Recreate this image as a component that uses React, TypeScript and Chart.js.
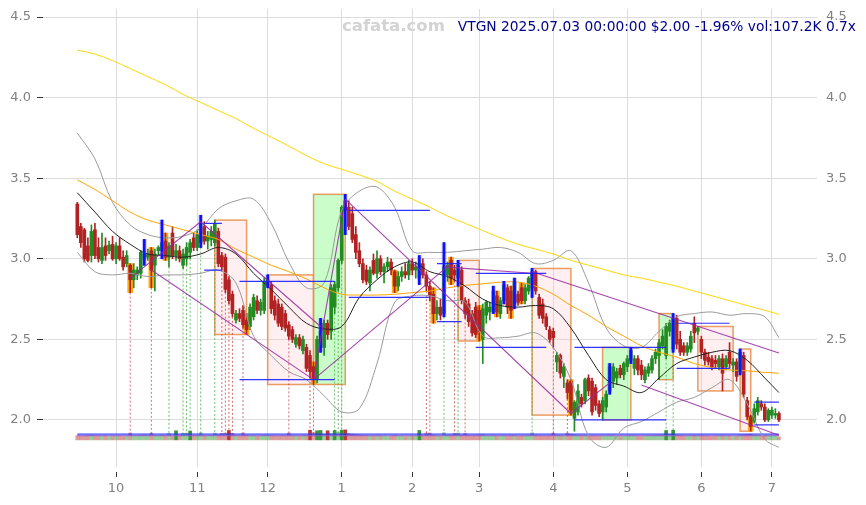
import React, { useEffect, useRef } from "react";
import { Chart, registerables } from "chart.js";

Chart.register(...registerables);

type Candle = [number, number, number, number]; // open, high, low, close

// ---------------- candles (daily, trading days) ----------------
const SEP_2024: Candle[] = [
  [3.34, 3.35, 3.13, 3.15], [3.2, 3.22, 3.07, 3.1], [3.18, 3.19, 2.98, 3.0], [3.08, 3.13, 2.98, 2.99],
  [3.02, 3.21, 2.98, 3.17], [3.18, 3.22, 3.0, 3.02], [3.07, 3.13, 2.98, 3.0], [2.99, 3.16, 2.97, 3.07],
  [3.08, 3.13, 2.99, 3.02], [3.05, 3.11, 3.03, 3.085], [3.09, 3.14, 2.99, 3.0],
];
const OCT_2024: Candle[] = [
  [3.0, 3.1, 2.97, 3.08], [3.08, 3.13, 2.99, 3.0], [3.01, 3.05, 2.93, 2.95], [2.97, 3.05, 2.95, 3.02],
  [2.96, 2.97, 2.79, 2.87], [2.87, 2.97, 2.82, 2.93], [2.9, 2.95, 2.87, 2.93], [2.91, 3.05, 2.88, 3.04],
  [3.0, 3.12, 2.96, 3.03], [3.01, 3.06, 2.99, 3.03], [3.05, 3.07, 2.82, 2.93], [2.96, 3.06, 2.8, 3.03],
  [3.05, 3.08, 3.02, 3.07], [3.05, 3.24, 3.0, 3.1], [3.11, 3.16, 2.99, 3.01], [3.01, 3.1, 2.95, 3.08],
  [3.16, 3.2, 3.0, 3.02], [3.02, 3.09, 2.99, 3.05], [3.05, 3.08, 2.98, 3.0], [2.96, 3.06, 2.94, 3.03],
  [3.0, 3.1, 2.96, 3.07], [3.04, 3.12, 3.0, 3.1], [3.13, 3.16, 3.05, 3.07],
];
const NOV_2024: Candle[] = [
  [3.07, 3.18, 3.05, 3.15], [3.1, 3.27, 3.07, 3.22], [3.2, 3.23, 3.09, 3.11], [3.11, 3.17, 3.06, 3.14],
  [3.12, 3.2, 3.08, 3.17], [3.1, 3.24, 3.08, 3.22], [3.17, 3.19, 2.95, 2.97], [3.02, 3.04, 2.93, 2.95],
  [3.01, 3.03, 2.79, 2.81], [2.87, 2.89, 2.72, 2.74], [2.78, 2.8, 2.64, 2.66], [2.62, 2.68, 2.6, 2.66],
  [2.66, 2.69, 2.61, 2.63], [2.68, 2.71, 2.57, 2.59], [2.62, 2.66, 2.53, 2.56], [2.58, 2.72, 2.56, 2.7],
  [2.64, 2.78, 2.62, 2.76], [2.74, 2.77, 2.66, 2.68], [2.68, 2.75, 2.65, 2.73], [2.68, 2.88, 2.66, 2.86],
];
const DEC_2024: Candle[] = [
  [2.84, 2.9, 2.82, 2.87], [2.84, 2.86, 2.66, 2.69], [2.74, 2.77, 2.62, 2.65], [2.72, 2.75, 2.58, 2.6],
  [2.7, 2.72, 2.56, 2.58], [2.66, 2.68, 2.55, 2.57], [2.59, 2.61, 2.5, 2.52], [2.56, 2.58, 2.48, 2.5],
  [2.47, 2.53, 2.45, 2.51], [2.51, 2.53, 2.44, 2.46], [2.43, 2.52, 2.41, 2.5], [2.45, 2.47, 2.3, 2.32],
  [2.4, 2.43, 2.26, 2.3], [2.33, 2.36, 2.22, 2.26], [2.25, 2.52, 2.23, 2.5], [2.45, 2.63, 2.42, 2.55],
  [2.45, 2.62, 2.4, 2.6], [2.6, 2.62, 2.5, 2.53], [2.55, 2.84, 2.5, 2.82], [2.7, 2.86, 2.66, 2.84],
  [2.82, 3.0, 2.8, 2.99],
];
const JAN_2025: Candle[] = [
  [2.99, 3.33, 2.97, 3.32], [3.36, 3.4, 3.15, 3.3], [3.32, 3.36, 3.18, 3.2], [3.28, 3.32, 3.1, 3.12],
  [3.15, 3.2, 3.0, 3.04], [3.05, 3.1, 2.95, 2.97], [2.97, 3.0, 2.85, 2.87], [2.93, 2.96, 2.84, 2.86],
  [2.85, 2.95, 2.8, 2.93], [2.99, 3.03, 2.9, 2.91], [2.91, 3.05, 2.88, 3.0], [3.0, 3.02, 2.9, 2.92],
  [2.92, 2.97, 2.85, 2.95], [2.95, 3.01, 2.92, 2.98], [2.98, 3.0, 2.9, 2.93], [2.92, 2.93, 2.79, 2.83],
  [2.83, 2.92, 2.8, 2.89], [2.89, 2.95, 2.86, 2.92], [2.92, 2.97, 2.88, 2.9], [2.9, 2.99, 2.87, 2.97],
];
const FEB_2025: Candle[] = [
  [2.97, 3.0, 2.9, 2.93], [2.93, 2.98, 2.88, 2.95], [2.88, 3.02, 2.84, 2.97], [2.97, 3.0, 2.88, 2.9],
  [2.9, 2.92, 2.8, 2.83], [2.83, 2.86, 2.74, 2.77], [2.78, 2.82, 2.6, 2.66], [2.66, 2.74, 2.62, 2.7],
  [2.7, 2.75, 2.62, 2.65], [2.66, 3.1, 2.64, 2.95], [2.9, 2.98, 2.86, 2.96], [2.99, 3.01, 2.84, 2.88],
  [2.93, 2.96, 2.86, 2.9], [2.88, 2.99, 2.83, 2.96], [2.93, 2.95, 2.72, 2.74], [2.74, 2.76, 2.63, 2.66],
  [2.72, 2.75, 2.58, 2.61], [2.66, 2.68, 2.52, 2.54], [2.7, 2.73, 2.51, 2.53],
];
const MAR_2025: Candle[] = [
  [2.68, 2.71, 2.49, 2.55], [2.5, 2.72, 2.35, 2.69], [2.65, 2.74, 2.6, 2.73], [2.67, 2.73, 2.62, 2.7],
  [2.68, 2.83, 2.66, 2.8], [2.77, 2.8, 2.64, 2.67], [2.66, 2.76, 2.63, 2.74], [2.74, 2.86, 2.72, 2.84],
  [2.82, 2.84, 2.66, 2.7], [2.8, 2.83, 2.63, 2.68], [2.72, 2.88, 2.69, 2.86], [2.78, 2.8, 2.71, 2.73],
  [2.82, 2.85, 2.72, 2.74], [2.74, 2.84, 2.72, 2.82], [2.8, 2.89, 2.78, 2.88], [2.82, 2.94, 2.76, 2.92],
  [2.92, 2.93, 2.78, 2.8], [2.76, 2.78, 2.63, 2.65], [2.72, 2.75, 2.6, 2.63], [2.64, 2.66, 2.56, 2.58],
  [2.56, 2.58, 2.48, 2.5],
];
const APR_2025: Candle[] = [
  [2.55, 2.57, 2.45, 2.51], [2.36, 2.42, 2.3, 2.4], [2.4, 2.41, 2.26, 2.29], [2.27, 2.35, 2.2, 2.33],
  [2.23, 2.25, 2.13, 2.17], [2.24, 2.25, 2.03, 2.06], [2.01, 2.12, 1.93, 2.11], [2.05, 2.22, 2.03, 2.18],
  [2.14, 2.16, 2.08, 2.1], [2.12, 2.26, 2.1, 2.25], [2.26, 2.28, 2.15, 2.18], [2.24, 2.26, 2.03, 2.05],
  [2.2, 2.22, 2.06, 2.09], [2.1, 2.12, 2.02, 2.04], [2.05, 2.14, 2.0, 2.12], [2.08, 2.18, 2.05, 2.16],
  [2.18, 2.35, 2.16, 2.33], [2.24, 2.35, 2.2, 2.33], [2.26, 2.32, 2.22, 2.3], [2.32, 2.34, 2.26, 2.28],
  [2.28, 2.36, 2.25, 2.35],
];
const MAY_2025: Candle[] = [
  [2.33, 2.4, 2.3, 2.38], [2.37, 2.45, 2.35, 2.43], [2.32, 2.4, 2.28, 2.38], [2.38, 2.4, 2.28, 2.31],
  [2.34, 2.37, 2.25, 2.28], [2.25, 2.33, 2.23, 2.31], [2.29, 2.35, 2.27, 2.33], [2.31, 2.4, 2.29, 2.38],
  [2.38, 2.44, 2.35, 2.42], [2.4, 2.5, 2.25, 2.48], [2.46, 2.56, 2.44, 2.52], [2.4, 2.6, 2.38, 2.58],
  [2.55, 2.62, 2.52, 2.6], [2.44, 2.66, 2.42, 2.63], [2.63, 2.65, 2.44, 2.47], [2.5, 2.55, 2.4, 2.42],
  [2.46, 2.48, 2.4, 2.42], [2.42, 2.48, 2.4, 2.46], [2.44, 2.55, 2.42, 2.52], [2.6, 2.64, 2.48, 2.54],
  [2.55, 2.58, 2.53, 2.57],
];
const JUN_2025: Candle[] = [
  [2.5, 2.52, 2.38, 2.42], [2.42, 2.44, 2.34, 2.37], [2.39, 2.42, 2.34, 2.36], [2.38, 2.4, 2.31, 2.33],
  [2.37, 2.4, 2.32, 2.35], [2.33, 2.4, 2.31, 2.38], [2.38, 2.41, 2.18, 2.29], [2.33, 2.4, 2.31, 2.38],
  [2.42, 2.48, 2.32, 2.35], [2.34, 2.38, 2.3, 2.36], [2.36, 2.38, 2.24, 2.27], [2.3, 2.44, 2.28, 2.42],
  [2.4, 2.42, 2.14, 2.16], [2.12, 2.14, 2.0, 2.02], [2.02, 2.03, 1.93, 1.96], [1.99, 2.1, 1.98, 2.07],
  [2.05, 2.14, 2.03, 2.12], [2.1, 2.12, 2.06, 2.08], [2.08, 2.1, 1.99, 2.0], [2.0, 2.07, 1.99, 2.06],
];
const JUL_2025: Candle[] = [
  [2.03, 2.08, 2.01, 2.06], [2.03, 2.07, 2.01, 2.04], [2.04, 2.05, 1.99, 2.0],
];

const MONTH_CANDLES = [SEP_2024, OCT_2024, NOV_2024, DEC_2024, JAN_2025, FEB_2025, MAR_2025, APR_2025, MAY_2025, JUN_2025, JUL_2025];
const MONTH_TICK_LABELS = ["10", "11", "12", "1", "2", "3", "4", "5", "6", "7"];

// volume in thousands of shares
const VOLUME_K = [
  150, 130, 140, 160, 170, 150, 140, 130, 150, 120, 140,
  130, 140, 120, 130, 240, 150, 140, 160, 170, 150, 240, 160, 150, 170, 150, 230, 140, 320, 150, 230, 240, 310, 150,
  160, 250, 150, 140, 150, 240, 180, 230, 240, 330, 230, 150, 140, 240, 170, 140, 150, 130, 140, 160,
  170, 150, 140, 130, 150, 140, 240, 150, 140, 130, 150, 160, 340, 260, 320, 330, 200, 320, 220, 330, 260,
  340, 350, 220, 200, 180, 170, 160, 150, 140, 130, 150, 140, 130, 120, 130, 160, 140, 130, 120, 130,
  140, 130, 330, 160, 240, 240, 170, 140, 130, 250, 160, 170, 230, 240, 160, 230, 150, 140, 150,
  170, 180, 140, 130, 150, 140, 130, 150, 140, 150, 160, 130, 140, 130, 150, 250, 170, 150, 140, 130, 150,
  240, 160, 150, 140, 240, 190, 180, 160, 140, 150, 130, 150, 140, 130, 140, 130, 150, 140, 130, 120, 130,
  130, 150, 140, 130, 120, 130, 140, 150, 160, 170, 180, 330, 200, 340, 180, 160, 140, 130, 150, 160, 140,
  150, 140, 130, 120, 130, 140, 150, 130, 140, 120, 130, 170, 180, 190, 200, 160, 150, 130, 140, 130,
  130, 140, 107.2,
];

// indicator lines sampled every 5 bars
const SAMPLE_IDX = [0, 5, 10, 15, 20, 25, 30, 35, 40, 45, 50, 55, 60, 65, 70, 75, 80, 85, 90, 95, 100, 105, 110, 115, 120, 125, 130, 135, 140, 145, 150, 155, 160, 165, 170, 175, 180, 185, 190, 195, 199];
const MA_LONG = [4.295, 4.27, 4.23, 4.18, 4.13, 4.08, 4.02, 3.97, 3.92, 3.87, 3.81, 3.755, 3.7, 3.64, 3.59, 3.555, 3.52, 3.48, 3.42, 3.37, 3.32, 3.265, 3.22, 3.175, 3.13, 3.09, 3.06, 3.03, 2.99, 2.96, 2.93, 2.9, 2.88, 2.855, 2.83, 2.8, 2.77, 2.74, 2.71, 2.68, 2.655];
const MA_MID = [3.49, 3.43, 3.36, 3.29, 3.24, 3.21, 3.18, 3.15, 3.12, 3.06, 3.01, 2.96, 2.92, 2.875, 2.82, 2.78, 2.775, 2.775, 2.78, 2.79, 2.8, 2.82, 2.835, 2.845, 2.855, 2.855, 2.83, 2.78, 2.71, 2.65, 2.58, 2.52, 2.46, 2.42, 2.39, 2.35, 2.325, 2.31, 2.305, 2.295, 2.29];
const MA_SHORT = [3.41, 3.29, 3.17, 3.09, 3.03, 3.02, 3.01, 3.03, 3.07, 3.03, 2.91, 2.81, 2.7, 2.6, 2.565, 2.58, 2.76, 2.87, 2.95, 2.98, 2.92, 2.89, 2.83, 2.75, 2.71, 2.7, 2.71, 2.69, 2.57, 2.4, 2.25, 2.21, 2.17, 2.26, 2.35, 2.39, 2.42, 2.43, 2.37, 2.26, 2.17];
const BAND_UPPER = [3.78, 3.62, 3.35, 3.21, 3.15, 3.13, 3.14, 3.19, 3.31, 3.36, 3.37, 3.22, 2.98, 2.82, 2.85, 3.3, 3.42, 3.445, 3.32, 3.05, 3.04, 3.04, 3.05, 3.06, 3.07, 3.04, 2.97, 2.99, 3.05, 2.85, 2.57, 2.46, 2.45, 2.55, 2.64, 2.66, 2.67, 2.65, 2.66, 2.64, 2.51];
const BAND_LOWER = [3.04, 2.92, 2.9, 2.91, 2.89, 2.9, 2.9, 2.91, 2.93, 2.85, 2.52, 2.4, 2.3, 2.25, 2.15, 2.05, 2.07, 2.35, 2.73, 2.77, 2.77, 2.74, 2.73, 2.52, 2.51, 2.52, 2.54, 2.45, 2.25, 1.9, 1.83, 1.95, 1.99, 2.05, 2.11, 2.14, 2.2, 2.25, 2.1, 1.88, 1.83];
const VOL_MA_FAST_K = [200, 202, 201, 200, 199, 200, 201, 200, 200];
const VOL_MA_SLOW_K = [150, 151, 150, 150, 149, 150, 151, 150, 150];
const VOL_MA_IDX = [0, 25, 50, 75, 100, 125, 150, 175, 199];

// pattern boxes [first bar, last bar]
const BOXES: [number, number][] = [[39, 48], [54, 67], [67, 76], [108, 114], [129, 140], [149, 157], [165, 169], [176, 186], [188, 191]];
// trend lines [bar, price, bar, price]
const TREND_LINES: [number, number, number, number][] = [
  [15, 2.88, 35, 3.23], [21, 2.93, 67, 2.25], [35, 3.23, 69, 2.58], [67, 2.25, 76, 3.37],
  [76, 3.37, 140, 2.04], [67, 2.25, 106, 2.97], [104, 2.95, 129, 2.91], [129, 2.92, 199, 2.415],
  [140, 2.04, 151, 2.23], [160, 2.217, 199, 1.905],
];
// support / resistance levels [first bar, last bar, price]
const LEVELS: [number, number, number][] = [
  [36, 41, 3.22], [36, 41, 2.93], [46, 73, 2.86], [46, 73, 2.25], [77, 100, 3.3], [77, 100, 2.76],
  [102, 109, 2.97], [102, 109, 2.61], [113, 133, 2.91], [113, 133, 2.45], [141, 167, 2.45], [141, 167, 2.0],
  [170, 185, 2.6], [170, 185, 2.32], [192, 199, 2.11], [192, 199, 1.97],
];
const BLUE_MARK_IDX = [19, 24, 35, 54, 69, 76, 97, 104, 108, 118, 121, 124, 129, 151, 157, 169, 188];
const ORANGE_MARK_IDX = [15, 21, 25, 48, 67, 90, 101, 106, 114, 119, 123, 126, 140, 191];
const SIGNAL_IDX = [15, 21, 26, 30, 31, 32, 35, 39, 41, 42, 43, 44, 47, 60, 66, 67, 73, 74, 75, 99, 100, 104, 107, 108, 110, 129, 135, 139, 167, 169];
const Y_TICKS = [2.0, 2.5, 3.0, 3.5, 4.0, 4.5];
const TICKER = "VTGN";
const LAST_TIME = "2025.07.03 00:00:00";

// ---------------- derived ----------------
const CANDLES: Candle[] = MONTH_CANDLES.flat();
const MONTH_TICK_IDX: number[] = [];
{
  let acc = 0;
  MONTH_CANDLES.forEach((m, k) => {
    if (k > 0) MONTH_TICK_IDX.push(acc);
    acc += m.length;
  });
}
const N = CANDLES.length;
const X_MIN = -9.73;
const X_MAX = N - 1 + 10.8;
const Y_MIN = 1.708;
const Y_MAX = 4.55;
const DOT_BASE = 1.915;
const VOL_BIG = 300;

const RED = "#b22222";
const GREEN = "#228b22";
const isUp = (c: Candle) => c[3] >= c[0];

const last = CANDLES[N - 1][3];
const prev = CANDLES[N - 2][3];
const pct = ((last / prev - 1) * 100).toFixed(2);
const lastVol = VOLUME_K[N - 1];
const volRatio = (lastVol / VOL_MA_SLOW_K[VOL_MA_SLOW_K.length - 1]).toFixed(1);
const TITLE = `${TICKER} ${LAST_TIME} $${last.toFixed(2)} ${pct}% vol:${lastVol.toFixed(1)}K ${volRatio}x`;

const sampled = (vals: number[]) => SAMPLE_IDX.map((x, k) => ({ x, y: vals[k] }));
const segData = (segs: [number, number, number, number][]) => {
  const out: { x: number; y: number | null }[] = [];
  segs.forEach(([a, pa, b, pb]) => {
    out.push({ x: a, y: pa }, { x: b, y: pb }, { x: b, y: null });
  });
  return out;
};

const boxPlugin = {
  id: "boxes",
  beforeDatasetsDraw(chart: any) {
    const { ctx, scales } = chart;
    const xs = scales.x;
    const ys = scales.y;
    ctx.save();
    BOXES.forEach(([a, b]) => {
      let hi = -Infinity;
      let lo = Infinity;
      for (let i = a; i <= b; i++) {
        hi = Math.max(hi, CANDLES[i][1]);
        lo = Math.min(lo, CANDLES[i][2]);
      }
      const up = CANDLES[b][3] > CANDLES[a][0];
      const x0 = xs.getPixelForValue(a);
      const x1 = xs.getPixelForValue(b);
      const y0 = ys.getPixelForValue(hi);
      const y1 = ys.getPixelForValue(lo);
      ctx.fillStyle = up ? "rgba(152,251,152,0.5)" : "rgba(255,182,193,0.22)";
      ctx.fillRect(x0, y0, x1 - x0, y1 - y0);
      ctx.strokeStyle = "rgba(230,140,70,0.85)";
      ctx.lineWidth = 1.5;
      ctx.strokeRect(x0, y0, x1 - x0, y1 - y0);
    });
    ctx.restore();
  },
};

const FONT = { family: "'DejaVu Sans', sans-serif", size: 13 };
const TICK_COLOR = "#808080";
const GRID_COLOR = "#dddddd";

const zeroPad = (s: any) => {
  s.paddingTop = 0;
  s.paddingBottom = 0;
  s.paddingLeft = 0;
  s.paddingRight = 0;
};

export default function App() {
  const ref = useRef<HTMLCanvasElement | null>(null);

  useEffect(() => {
    if (!ref.current) return;

    const sigRed: any[] = [];
    const sigGreen: any[] = [];
    SIGNAL_IDX.forEach((i) => {
      const c = CANDLES[i];
      const arr = isUp(c) ? sigGreen : sigRed;
      arr.push({ x: i, y: c[2] }, { x: i, y: DOT_BASE }, { x: i, y: null });
    });

    const levelData: any[] = [];
    LEVELS.forEach(([a, b, p]) => levelData.push({ x: a, y: p }, { x: b, y: p }, { x: b, y: null }));

    const lineDs = (label: string, data: any[], color: string, width: number, order: number, extra: any = {}) => ({
      type: "line" as const,
      label,
      data,
      borderColor: color,
      borderWidth: width,
      pointRadius: 0,
      fill: false,
      order,
      ...extra,
    });

    const datasets: any[] = [
      lineDs("levels", levelData, "rgba(30,30,255,0.9)", 1.2, 1),
      lineDs("trend", segData(TREND_LINES), "rgba(150,40,160,0.85)", 1.1, 2),
      {
        type: "bar", label: "blueMark",
        data: BLUE_MARK_IDX.map((i) => ({ x: i, y: [CANDLES[i][2], CANDLES[i][1]] })),
        backgroundColor: "#1010ff", barThickness: 2, grouped: false, order: 3,
      },
      {
        type: "bar", label: "blueHalo",
        data: BLUE_MARK_IDX.map((i) => ({ x: i, y: [CANDLES[i][2], CANDLES[i][1]] })),
        backgroundColor: "rgba(90,90,255,0.35)", barThickness: 4, grouped: false, order: 4,
      },
      lineDs("maShort", sampled(MA_SHORT), "#222222", 1, 5, { tension: 0.35 }),
      lineDs("maMid", sampled(MA_MID), "#ffa500", 1, 6, { tension: 0.35 }),
      lineDs("maLong", sampled(MA_LONG), "#ffd700", 1, 7, { tension: 0.35 }),
      lineDs("bandUp", sampled(BAND_UPPER), "#9a9a9a", 1, 8, { tension: 0.35 }),
      lineDs("bandLow", sampled(BAND_LOWER), "#9a9a9a", 1, 9, { tension: 0.35 }),
      {
        type: "bar", label: "body",
        data: CANDLES.map((c, i) => ({ x: i, y: [c[0], c[3]] })),
        backgroundColor: CANDLES.map((c) => (isUp(c) ? GREEN : RED)),
        barThickness: 3, minBarLength: 1, grouped: false, order: 10,
      },
      {
        type: "bar", label: "wick",
        data: CANDLES.map((c, i) => ({ x: i, y: [c[2], c[1]] })),
        backgroundColor: CANDLES.map((c) => (isUp(c) ? GREEN : RED)),
        barThickness: 1, grouped: false, order: 11,
      },
      {
        type: "bar", label: "orangeMark",
        data: ORANGE_MARK_IDX.map((i) => ({ x: i, y: [CANDLES[i][2], CANDLES[i][1]] })),
        backgroundColor: "rgba(255,165,0,0.95)", barThickness: 5, grouped: false, order: 12,
      },
      lineDs("volFast", VOL_MA_IDX.map((x, k) => ({ x, y: VOL_MA_FAST_K[k] })), "rgba(40,40,255,0.9)", 1.2, 13, { yAxisID: "yv" }),
      lineDs("volSlow", VOL_MA_IDX.map((x, k) => ({ x, y: VOL_MA_SLOW_K[k] })), "rgba(130,90,210,0.8)", 1.2, 13, { yAxisID: "yv" }),
      {
        type: "bar", label: "volume", yAxisID: "yv",
        data: VOLUME_K.map((v, i) => ({ x: i, y: v })),
        backgroundColor: VOLUME_K.map((v, i) => {
          const up = isUp(CANDLES[i]);
          const a = v >= VOL_BIG ? 0.9 : 0.45;
          return up ? `rgba(34,139,34,${a})` : `rgba(178,34,34,${a})`;
        }),
        barThickness: 3, grouped: false, order: 14,
      },
      lineDs("sigRed", sigRed, "rgba(200,60,60,0.75)", 1, 15, { borderDash: [2, 2] }),
      lineDs("sigGreen", sigGreen, "rgba(60,170,60,0.75)", 1, 15, { borderDash: [2, 2] }),
    ];

    const chart = new Chart(ref.current, {
      type: "bar",
      data: { datasets },
      plugins: [boxPlugin],
      options: {
        responsive: false,
        animation: false,
        devicePixelRatio: 1,
        layout: { padding: { top: 9, left: 0, right: 0, bottom: 0 } },
        plugins: { legend: { display: false }, tooltip: { enabled: false } },
        scales: {
          x: {
            type: "linear",
            min: X_MIN,
            max: X_MAX,
            offset: false,
            afterBuildTicks: (s: any) => {
              s.ticks = MONTH_TICK_IDX.map((v) => ({ value: v }));
            },
            afterFit: (s: any) => {
              s.height = 38;
              zeroPad(s);
            },
            ticks: {
              autoSkip: false,
              maxRotation: 0,
              padding: 4,
              color: TICK_COLOR,
              font: FONT,
              callback: (_v: any, i: number) => MONTH_TICK_LABELS[i],
            },
            grid: {
              color: GRID_COLOR,
              offset: false,
              tickLength: 10,
              tickColor: "#333333",
              tickBorderDash: [0, 5, 5, 100],
            },
            border: { display: false },
          },
          y: {
            type: "linear",
            position: "left",
            min: Y_MIN,
            max: Y_MAX,
            afterBuildTicks: (s: any) => {
              s.ticks = Y_TICKS.map((v) => ({ value: v }));
            },
            afterFit: (s: any) => {
              s.width = 43;
              zeroPad(s);
            },
            ticks: { color: TICK_COLOR, font: FONT, padding: 6, callback: (v: any) => Number(v).toFixed(1) },
            grid: { color: GRID_COLOR, tickLength: 6, tickColor: "#333333" },
            border: { display: false },
          },
          y2: {
            type: "linear",
            position: "right",
            min: Y_MIN,
            max: Y_MAX,
            afterBuildTicks: (s: any) => {
              s.ticks = Y_TICKS.map((v) => ({ value: v }));
            },
            afterFit: (s: any) => {
              s.width = 49;
              zeroPad(s);
            },
            ticks: { color: TICK_COLOR, font: FONT, padding: 9, callback: (v: any) => Number(v).toFixed(1) },
            grid: { display: false, drawTicks: false },
            border: { display: false },
          },
          yv: {
            type: "linear",
            display: false,
            min: -950,
            max: 15100,
          },
        },
      } as any,
    } as any);

    return () => chart.destroy();
  }, []);

  return (
    <div style={{ position: "absolute", left: 0, top: 0, width: 866, height: 505, background: "#ffffff" }}>
      <canvas ref={ref} width={866} height={505} style={{ display: "block", width: 866, height: 505 }} />
      <div
        style={{
          position: "absolute", left: 342, top: 16, font: "bold 16.5px 'DejaVu Sans', sans-serif",
          lineHeight: "20px", color: "#d3d3d3", whiteSpace: "nowrap",
        }}
      >
        cafata.com
      </div>
      <div
        style={{
          position: "absolute", right: 10, top: 19, font: "13.8px 'DejaVu Sans', sans-serif",
          lineHeight: "15px", color: "#00008b", whiteSpace: "nowrap",
        }}
      >
        {TITLE}
      </div>
    </div>
  );
}
